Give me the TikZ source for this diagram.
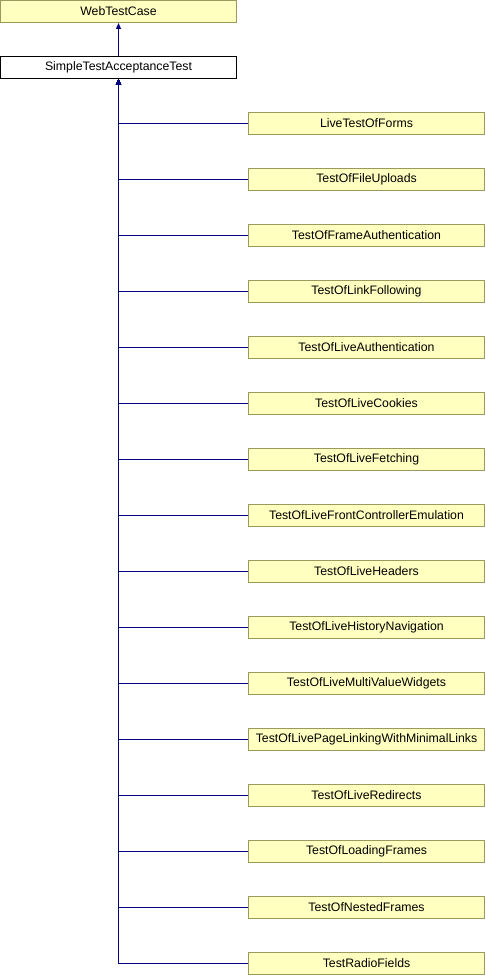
\documentclass[tikz,border=0pt]{standalone}
\usepackage{fontspec}
\setmainfont{Liberation Sans}
\usepackage{xcolor}
\usetikzlibrary{arrows.meta,positioning}

\definecolor{boxfill}{HTML}{FFFFC0}
\definecolor{boxline}{HTML}{9A9A5E}
\definecolor{linkblue}{HTML}{000080}

\begin{document}
\begin{tikzpicture}[
    x=1pt, y=-1pt,
    cls/.style={draw=boxline, fill=boxfill, line width=1pt, minimum width=236pt, minimum height=22pt, inner sep=0pt, font=\fontsize{12.3}{14}\selectfont},
    cur/.style={cls, draw=black, fill=white},
    inh/.style={-{Triangle[length=6pt, width=5pt]}, draw=linkblue, line width=1pt},
]
\useasboundingbox (0,0) rectangle (486,976);

% base classes
\node[cls] (webtest) at (118.5, 11.5) {WebTestCase};
\node[cur] (sta)     at (118.5, 67.5) {SimpleTestAcceptanceTest};

% derived classes
\node[cls] (forms)       at (366.5, 123.5) {LiveTestOfForms};
\node[cls] (uploads)     at (366.5, 179.5) {TestOfFileUploads};
\node[cls] (frameauth)   at (366.5, 235.5) {TestOfFrameAuthentication};
\node[cls] (linkfollow)  at (366.5, 291.5) {TestOfLinkFollowing};
\node[cls] (liveauth)    at (366.5, 347.5) {TestOfLiveAuthentication};
\node[cls] (cookies)     at (366.5, 403.5) {TestOfLiveCookies};
\node[cls] (fetching)    at (366.5, 459.5) {TestOfLiveFetching};
\node[cls] (frontctrl)   at (366.5, 515.5) {TestOfLiveFrontControllerEmulation};
\node[cls] (headers)     at (366.5, 571.5) {TestOfLiveHeaders};
\node[cls] (history)     at (366.5, 627.5) {TestOfLiveHistoryNavigation};
\node[cls] (multivalue)  at (366.5, 683.5) {TestOfLiveMultiValueWidgets};
\node[cls] (pagelinking) at (366.5, 739.5) {TestOfLivePageLinkingWithMinimalLinks};
\node[cls] (redirects)   at (366.5, 795.5) {TestOfLiveRedirects};
\node[cls] (loading)     at (366.5, 851.5) {TestOfLoadingFrames};
\node[cls] (nested)      at (366.5, 907.5) {TestOfNestedFrames};
\node[cls] (radio)       at (366.5, 963.5) {TestRadioFields};

% inheritance
\draw[inh] (sta.north) -- (webtest.south);
\draw[inh] (forms.west)       -| (sta.south);
\draw[inh] (uploads.west)     -| (sta.south);
\draw[inh] (frameauth.west)   -| (sta.south);
\draw[inh] (linkfollow.west)  -| (sta.south);
\draw[inh] (liveauth.west)    -| (sta.south);
\draw[inh] (cookies.west)     -| (sta.south);
\draw[inh] (fetching.west)    -| (sta.south);
\draw[inh] (frontctrl.west)   -| (sta.south);
\draw[inh] (headers.west)     -| (sta.south);
\draw[inh] (history.west)     -| (sta.south);
\draw[inh] (multivalue.west)  -| (sta.south);
\draw[inh] (pagelinking.west) -| (sta.south);
\draw[inh] (redirects.west)   -| (sta.south);
\draw[inh] (loading.west)     -| (sta.south);
\draw[inh] (nested.west)      -| (sta.south);
\draw[inh] (radio.west)       -| (sta.south);

\end{tikzpicture}
\end{document}
